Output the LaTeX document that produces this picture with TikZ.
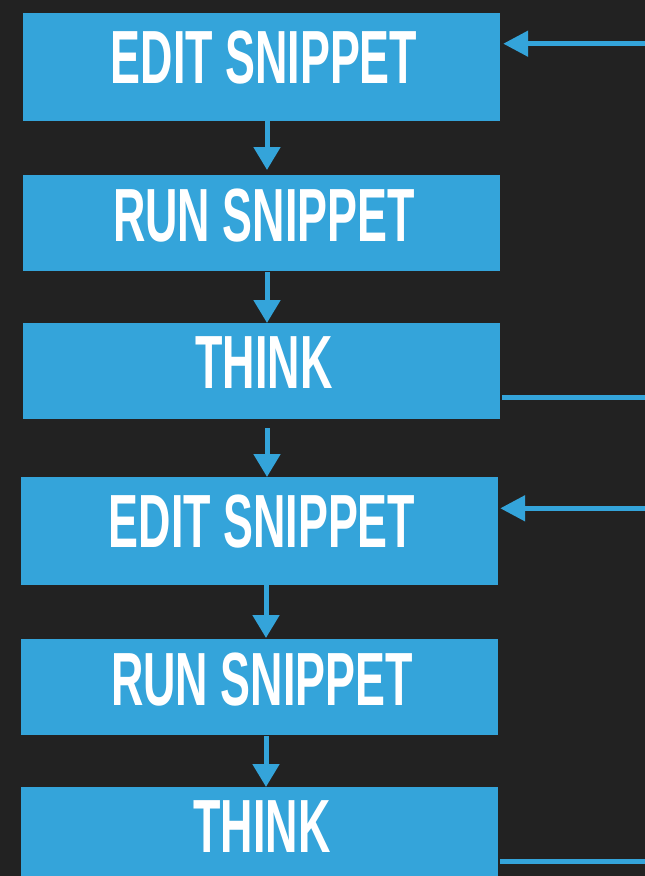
\documentclass[tikz,border=0pt]{standalone}
\usepackage{fontspec}
\setmainfont{Liberation Sans}
\usetikzlibrary{arrows.meta,calc}
\definecolor{bgdark}{HTML}{222222}
\definecolor{stepblue}{HTML}{34A4DA}
\newcommand\narrowtext[1]{\scalebox{0.595}[1]{#1}}
\begin{document}
\begin{tikzpicture}[x=1pt,y=-1pt,
  stepbox/.style={fill=stepblue, draw=none, inner sep=0pt, minimum width=477pt, anchor=north},
  tallbox/.style={stepbox, minimum height=108pt},
  shortbox/.style={stepbox, minimum height=96pt},
  steptext/.style={text=white, inner sep=0pt, anchor=base,
    font=\fontsize{75.4}{80}\selectfont\bfseries},
  flow/.style={draw=stepblue, line width=5pt,
    -{Triangle[width=26pt,length=23pt]}},
  sideflow/.style={draw=stepblue, line width=5pt,
    -{Triangle[width=25pt,length=25pt]}},
  backline/.style={draw=stepblue, line width=5pt}]
  % background and page frame
  \fill[bgdark] (0,0) rectangle (645,876);
  \useasboundingbox (0,0) rectangle (645,876);
  \clip (0,0) rectangle (645,876);

  % process steps
  \node[tallbox]  (b1) at (261.5,13)  {};
  \node[shortbox] (b2) at (261.5,175) {};
  \node[shortbox] (b3) at (261.5,323) {};
  \node[tallbox]  (b4) at (259.5,477) {};
  \node[shortbox] (b5) at (259.5,639) {};
  \node[shortbox] (b6) at (259.5,787) {};

  % step labels
  \node[steptext] (t1) at ($(b1.north)+(2.5,70)$) {\narrowtext{EDIT SNIPPET}};
  \node[steptext] (t2) at ($(b2.north)+(2.5,66)$) {\narrowtext{RUN SNIPPET}};
  \node[steptext] (t3) at ($(b3.north)+(2.5,65)$) {\narrowtext{THINK}};
  \node[steptext] (t4) at ($(b4.north)+(2.5,70)$) {\narrowtext{EDIT SNIPPET}};
  \node[steptext] (t5) at ($(b5.north)+(2.5,66)$) {\narrowtext{RUN SNIPPET}};
  \node[steptext] (t6) at ($(b6.north)+(2.5,65)$) {\narrowtext{THINK}};

  % downward flow
  \draw[flow] ($(b1.south)+(5.5,0)$) -- ($(b2.north)+(5.5,-5)$);
  \draw[flow] ($(b2.south)+(5.5,1)$) -- ($(b3.north)+(5.5,0)$);
  \draw[flow] ($(b3.south)+(5.5,9)$) -- ($(b4.north)+(7.5,0)$);
  \draw[flow] ($(b4.south)+(6.5,0)$) -- ($(b5.north)+(6.5,-1)$);
  \draw[flow] ($(b5.south)+(6.5,1)$) -- ($(b6.north)+(6.5,0)$);

  % loop-back connectors along the right edge
  \coordinate (r1) at (645,43.7);
  \coordinate (r3) at (645,397);
  \coordinate (r4) at (645,508.3);
  \coordinate (r6) at (645,861.7);
  \draw[sideflow] (r1) -- ($(b1.east |- r1)+(3,0)$);
  \draw[backline] ($(b3.east |- r3)+(2,0)$) -- (r3);
  \draw[sideflow] (r4) -- ($(b4.east |- r4)+(2,0)$);
  \draw[backline] ($(b6.east |- r6)+(2,0)$) -- (r6);
\end{tikzpicture}
\end{document}
